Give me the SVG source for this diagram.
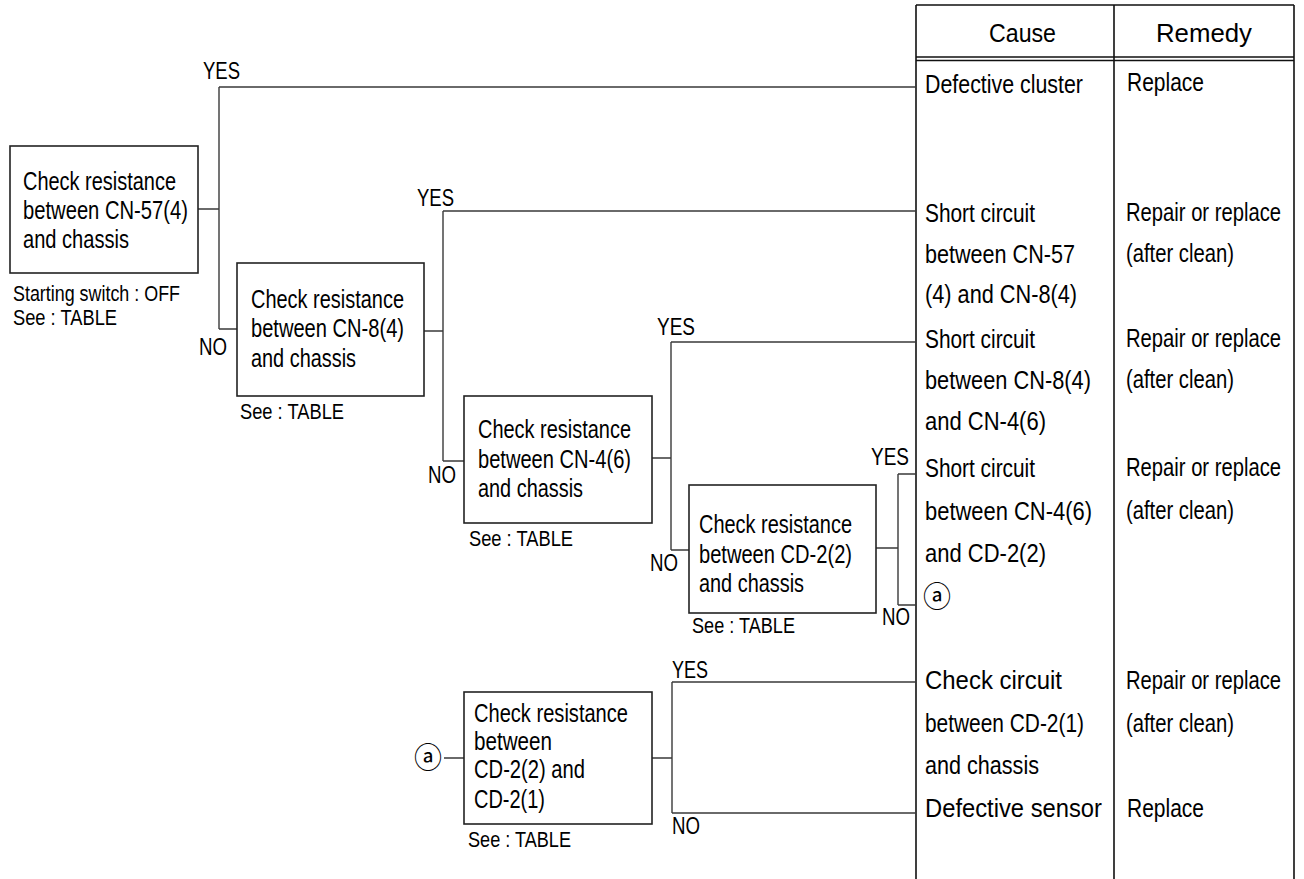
<svg xmlns="http://www.w3.org/2000/svg" width="1304" height="879" viewBox="0 0 1304 879">
  <style>
    text { font-family: "Liberation Sans", Arial, sans-serif; fill: #000; }
    .t { font-size: 25.5px; }
    .h { font-size: 25.5px; }
    .s { font-size: 21.5px; }
    .l { font-size: 23px; }
    .mark { font-family: "Noto Sans CJK KR", "DejaVu Sans", sans-serif; font-size: 28px; }
    .box { fill: #fff; stroke: #222; stroke-width: 1.6; }
    .wire { fill: none; stroke: #3a3a3a; stroke-width: 1.4; }
    .grid { fill: none; stroke: #111; stroke-width: 1.6; }
  </style>

  <rect width="1304" height="879" fill="#fff"/>

  <!-- cause / remedy table -->
  <g id="table">
    <path class="grid" d="M916 5 H1294 M916 5 V879 M1114 5 V879 M1294 5 V879 M916 57 H1294 M916 60.5 H1294"/>
    <text class="h" x="989" y="42" textLength="67" lengthAdjust="spacingAndGlyphs">Cause</text>
    <text class="h" x="1156" y="42" textLength="96" lengthAdjust="spacingAndGlyphs">Remedy</text>

    <text class="t" x="925" y="93" textLength="158" lengthAdjust="spacingAndGlyphs">Defective cluster</text>
    <text class="t" x="1127" y="91" textLength="77" lengthAdjust="spacingAndGlyphs">Replace</text>

    <text class="t" x="925" y="222" textLength="110" lengthAdjust="spacingAndGlyphs">Short circuit</text>
    <text class="t" x="925" y="263" textLength="150" lengthAdjust="spacingAndGlyphs">between CN-57</text>
    <text class="t" x="925" y="303" textLength="152" lengthAdjust="spacingAndGlyphs">(4) and CN-8(4)</text>
    <text class="t" x="1126" y="221" textLength="155" lengthAdjust="spacingAndGlyphs">Repair or replace</text>
    <text class="t" x="1126" y="262" textLength="108" lengthAdjust="spacingAndGlyphs">(after clean)</text>

    <text class="t" x="925" y="348" textLength="110" lengthAdjust="spacingAndGlyphs">Short circuit</text>
    <text class="t" x="925" y="389" textLength="166" lengthAdjust="spacingAndGlyphs">between CN-8(4)</text>
    <text class="t" x="925" y="430" textLength="121" lengthAdjust="spacingAndGlyphs">and CN-4(6)</text>
    <text class="t" x="1126" y="347" textLength="155" lengthAdjust="spacingAndGlyphs">Repair or replace</text>
    <text class="t" x="1126" y="388" textLength="108" lengthAdjust="spacingAndGlyphs">(after clean)</text>

    <text class="t" x="925" y="477" textLength="110" lengthAdjust="spacingAndGlyphs">Short circuit</text>
    <text class="t" x="925" y="520" textLength="167" lengthAdjust="spacingAndGlyphs">between CN-4(6)</text>
    <text class="t" x="925" y="562" textLength="121" lengthAdjust="spacingAndGlyphs">and CD-2(2)</text>
    <text class="mark" x="937" y="607" text-anchor="middle">ⓐ</text>
    <text class="t" x="1126" y="476" textLength="155" lengthAdjust="spacingAndGlyphs">Repair or replace</text>
    <text class="t" x="1126" y="519" textLength="108" lengthAdjust="spacingAndGlyphs">(after clean)</text>

    <text class="t" x="925" y="689" textLength="137" lengthAdjust="spacingAndGlyphs">Check circuit</text>
    <text class="t" x="925" y="732" textLength="159" lengthAdjust="spacingAndGlyphs">between CD-2(1)</text>
    <text class="t" x="925" y="774" textLength="114" lengthAdjust="spacingAndGlyphs">and chassis</text>
    <text class="t" x="925" y="817" textLength="177" lengthAdjust="spacingAndGlyphs">Defective sensor</text>
    <text class="t" x="1126" y="689" textLength="155" lengthAdjust="spacingAndGlyphs">Repair or replace</text>
    <text class="t" x="1126" y="732" textLength="108" lengthAdjust="spacingAndGlyphs">(after clean)</text>
    <text class="t" x="1127" y="817" textLength="77" lengthAdjust="spacingAndGlyphs">Replace</text>
  </g>

  <!-- branch wiring -->
  <g id="connectors">
    <path class="wire" d="M198 209 H219 M219 87 V329 M219 87 H916 M219 329 H237"/>
    <path class="wire" d="M424 331 H443 M443 211 V461 M443 211 H916 M443 461 H464"/>
    <path class="wire" d="M652 458 H671 M671 342 V550 M671 342 H916 M671 550 H689"/>
    <path class="wire" d="M876 548 H898 M898 474 V605 M898 474 H916 M898 605 H916"/>
    <path class="wire" d="M444 758 H464 M652 758 H672 M672 682 V813 M672 682 H916 M672 813 H916"/>
  </g>

  <!-- branch labels -->
  <g id="labels">
    <text class="l" x="203" y="79" textLength="37" lengthAdjust="spacingAndGlyphs">YES</text>
    <text class="l" x="199" y="355" textLength="28" lengthAdjust="spacingAndGlyphs">NO</text>
    <text class="l" x="417" y="206" textLength="37" lengthAdjust="spacingAndGlyphs">YES</text>
    <text class="l" x="428" y="483" textLength="28" lengthAdjust="spacingAndGlyphs">NO</text>
    <text class="l" x="657" y="335" textLength="38" lengthAdjust="spacingAndGlyphs">YES</text>
    <text class="l" x="650" y="571" textLength="28" lengthAdjust="spacingAndGlyphs">NO</text>
    <text class="l" x="871" y="465" textLength="38" lengthAdjust="spacingAndGlyphs">YES</text>
    <text class="l" x="882" y="625" textLength="28" lengthAdjust="spacingAndGlyphs">NO</text>
    <text class="l" x="672" y="678" textLength="36" lengthAdjust="spacingAndGlyphs">YES</text>
    <text class="l" x="672" y="834" textLength="28" lengthAdjust="spacingAndGlyphs">NO</text>
  </g>

  <g id="check-cn57">
    <rect class="box" x="10" y="146" width="188" height="127"/>
    <text class="t" x="23" y="190" textLength="153" lengthAdjust="spacingAndGlyphs">Check resistance</text>
    <text class="t" x="23" y="219" textLength="165" lengthAdjust="spacingAndGlyphs">between CN-57(4)</text>
    <text class="t" x="23" y="248" textLength="106" lengthAdjust="spacingAndGlyphs">and chassis</text>
    <text class="s" x="13" y="301" textLength="167" lengthAdjust="spacingAndGlyphs">Starting switch : OFF</text>
    <text class="s" x="13" y="325" textLength="104" lengthAdjust="spacingAndGlyphs">See : TABLE</text>
  </g>

  <g id="check-cn8">
    <rect class="box" x="237" y="263" width="187" height="133"/>
    <text class="t" x="251" y="308" textLength="153" lengthAdjust="spacingAndGlyphs">Check resistance</text>
    <text class="t" x="251" y="337" textLength="153" lengthAdjust="spacingAndGlyphs">between CN-8(4)</text>
    <text class="t" x="251" y="367" textLength="105" lengthAdjust="spacingAndGlyphs">and chassis</text>
    <text class="s" x="240" y="419" textLength="104" lengthAdjust="spacingAndGlyphs">See : TABLE</text>
  </g>

  <g id="check-cn4">
    <rect class="box" x="464" y="396" width="188" height="127"/>
    <text class="t" x="478" y="438" textLength="153" lengthAdjust="spacingAndGlyphs">Check resistance</text>
    <text class="t" x="478" y="468" textLength="153" lengthAdjust="spacingAndGlyphs">between CN-4(6)</text>
    <text class="t" x="478" y="497" textLength="105" lengthAdjust="spacingAndGlyphs">and chassis</text>
    <text class="s" x="469" y="546" textLength="104" lengthAdjust="spacingAndGlyphs">See : TABLE</text>
  </g>

  <g id="check-cd2-chassis">
    <rect class="box" x="689" y="485" width="187" height="128"/>
    <text class="t" x="699" y="533" textLength="153" lengthAdjust="spacingAndGlyphs">Check resistance</text>
    <text class="t" x="699" y="563" textLength="153" lengthAdjust="spacingAndGlyphs">between CD-2(2)</text>
    <text class="t" x="699" y="592" textLength="105" lengthAdjust="spacingAndGlyphs">and chassis</text>
    <text class="s" x="692" y="633" textLength="103" lengthAdjust="spacingAndGlyphs">See : TABLE</text>
  </g>

  <g id="check-cd2-pins">
    <text class="mark" x="428" y="768" text-anchor="middle">ⓐ</text>
    <rect class="box" x="464" y="692" width="188" height="132"/>
    <text class="t" x="474" y="722" textLength="154" lengthAdjust="spacingAndGlyphs">Check resistance</text>
    <text class="t" x="474" y="750" textLength="78" lengthAdjust="spacingAndGlyphs">between</text>
    <text class="t" x="474" y="778" textLength="111" lengthAdjust="spacingAndGlyphs">CD-2(2) and</text>
    <text class="t" x="474" y="808" textLength="71" lengthAdjust="spacingAndGlyphs">CD-2(1)</text>
    <text class="s" x="468" y="847" textLength="103" lengthAdjust="spacingAndGlyphs">See : TABLE</text>
  </g>
</svg>
